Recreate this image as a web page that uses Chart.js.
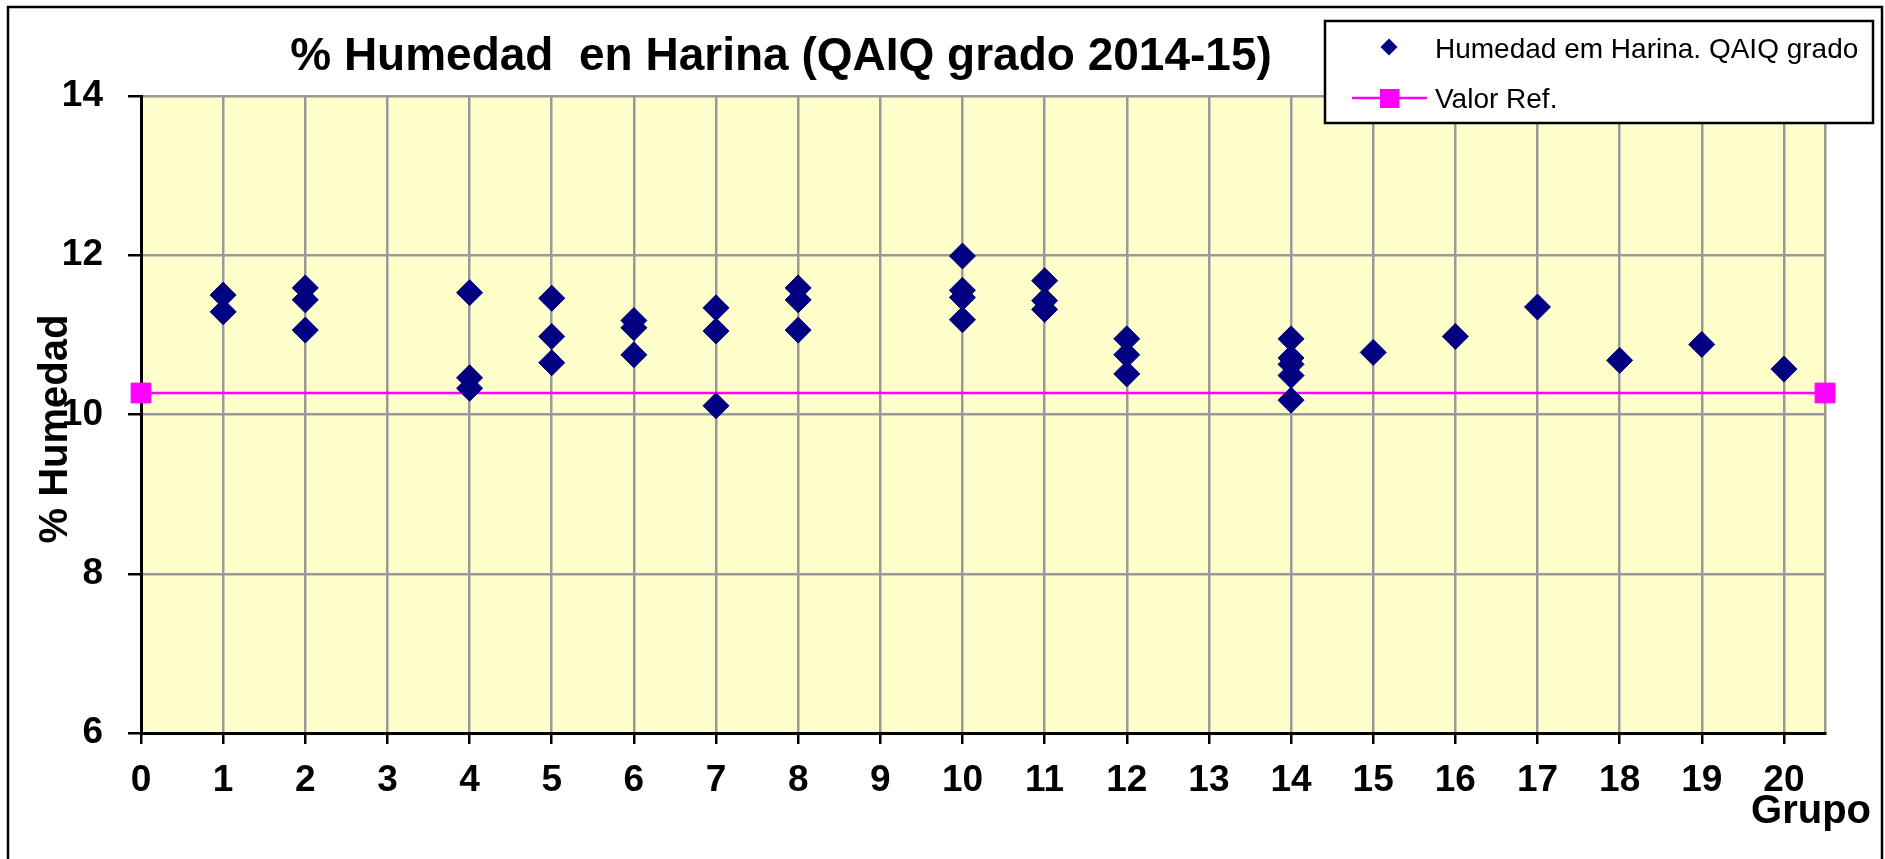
<!DOCTYPE html>
<html>
<head>
<meta charset="utf-8">
<script src="https://cdn.jsdelivr.net/npm/chart.js@4/dist/chart.umd.min.js"></script>
<style>
  html, body { margin: 0; padding: 0; background: #fff; }
  canvas { display: block; }
</style>
</head>
<body>
<canvas id="humedadChart" width="1885" height="859"></canvas>
<script>
// datos
var grupos = [1, 1,
  2, 2, 2,
  4, 4, 4,
  5, 5, 5,
  6, 6, 6,
  7, 7, 7,
  8, 8, 8,
  10, 10, 10, 10,
  11, 11, 11,
  12, 12, 12,
  14, 14, 14, 14, 14,
  15, 16, 17, 18, 19, 20];
var humedad = [11.50, 11.29,
  11.59, 11.44, 11.06,
  11.53, 10.46, 10.33,
  11.46, 10.98, 10.65,
  11.18, 11.09, 10.75,
  11.34, 11.05, 10.11,
  11.59, 11.44, 11.06,
  11.99, 11.56, 11.47, 11.19,
  11.68, 11.43, 11.32,
  10.95, 10.75, 10.51,
  10.95, 10.71, 10.63, 10.49, 10.18,
  10.78, 10.98, 11.35, 10.68, 10.88, 10.57];
var refGrupos = [0, 20.5];
var refValor = [10.27, 10.27];
var xTicks = [0, 1, 2, 3, 4, 5, 6, 7, 8, 9, 10, 11, 12, 13, 14, 15, 16, 17, 18, 19, 20];
var xMax = 20.5;

var titulo = '% Humedad  en Harina (QAIQ grado 2014-15)';
var tituloY = '% Humedad';
var tituloX = 'Grupo';
var serie1 = 'Humedad em Harina. QAIQ grado';
var serie2 = 'Valor Ref.';

var fuente = "'Liberation Sans', Arial, sans-serif";
var azul = '#000080';
var rosa = '#FF00FF';
var gris = '#999999';

function toPoints(xs, ys) {
  return xs.map(function (x, i) { return {x: x, y: ys[i]}; });
}

// fondo, marco, titulos y leyenda
var marco = {
  id: 'marco',
  beforeDraw: function (chart) {
    var ctx = chart.ctx, a = chart.chartArea;
    ctx.save();
    ctx.fillStyle = '#fff';
    ctx.fillRect(0, 0, chart.width, chart.height);
    ctx.fillStyle = '#FFFFCC';
    ctx.fillRect(a.left, a.top, a.right - a.left + 2, a.bottom - a.top + 3);
    ctx.restore();
  },
  afterDraw: function (chart) {
    var ctx = chart.ctx;
    ctx.save();
    ctx.strokeStyle = '#000';
    ctx.lineWidth = 2.5;
    ctx.strokeRect(8, 7, 1874, 900);

    ctx.fillStyle = '#000';
    ctx.textAlign = 'center';
    ctx.textBaseline = 'alphabetic';
    ctx.font = 'bold 46px ' + fuente;
    ctx.fillText(titulo, 781, 70);

    ctx.font = 'bold 40px ' + fuente;
    ctx.textAlign = 'right';
    ctx.fillText(tituloX, 1871, 823);

    ctx.save();
    ctx.translate(67, 429);
    ctx.rotate(-Math.PI / 2);
    ctx.textAlign = 'center';
    ctx.fillText(tituloY, 0, 0);
    ctx.restore();

    // leyenda
    ctx.fillStyle = '#fff';
    ctx.fillRect(1325, 21, 548, 102);
    ctx.lineWidth = 2.5;
    ctx.strokeRect(1325, 21, 548, 102);

    ctx.fillStyle = azul;
    ctx.beginPath();
    ctx.moveTo(1389, 38.5);
    ctx.lineTo(1397.5, 47);
    ctx.lineTo(1389, 55.5);
    ctx.lineTo(1380.5, 47);
    ctx.closePath();
    ctx.fill();

    ctx.strokeStyle = rosa;
    ctx.lineWidth = 2.5;
    ctx.beginPath();
    ctx.moveTo(1352, 98);
    ctx.lineTo(1427, 98);
    ctx.stroke();
    ctx.fillStyle = rosa;
    ctx.fillRect(1380, 89, 19.5, 19);

    ctx.fillStyle = '#000';
    ctx.textAlign = 'left';
    ctx.font = '28px ' + fuente;
    ctx.fillText(chart.data.datasets[0].label, 1435, 57.5);
    ctx.fillText(chart.data.datasets[1].label, 1435, 108);
    ctx.restore();
  }
};

var ctx = document.getElementById('humedadChart');
var myChart = new Chart(ctx, {
  type: 'scatter',
  data: {
    datasets: [{
        label: serie1,
        data: toPoints(grupos, humedad),
        pointStyle: 'rectRot',
        pointRadius: 13,
        pointBorderWidth: 1,
        backgroundColor: azul,
        borderColor: azul,
        clip: false
      },
      {
        label: serie2,
        data: toPoints(refGrupos, refValor),
        showLine: true,
        borderColor: rosa,
        borderWidth: 2.5,
        pointStyle: 'rect',
        pointRadius: 14,
        pointBorderWidth: 1,
        pointBackgroundColor: rosa,
        pointBorderColor: rosa,
        backgroundColor: rosa,
        clip: false
      }
    ]
  },
  options: {
    responsive: false,
    animation: false,
    layout: {
      padding: {top: 96, right: 60, left: 0, bottom: 0}
    },
    scales: {
      x: {
        type: 'linear',
        min: 0,
        max: xMax,
        afterFit: function (scale) { scale.height = 126; },
        afterBuildTicks: function (scale) {
          scale.ticks = xTicks.map(function (v) { return {value: v}; }).concat([{value: xMax}]);
        },
        ticks: {
          autoSkip: false,
          maxRotation: 0,
          padding: 15,
          color: '#000',
          font: {family: fuente, size: 37, weight: 'bold'},
          callback: function (v) { return v === xMax ? '' : v; }
        },
        grid: {
          color: gris,
          lineWidth: 2.5,
          tickLength: 11,
          tickWidth: 2.5,
          tickColor: function (c) { return (c.tick && c.tick.value === xMax) ? 'rgba(0,0,0,0)' : '#000'; }
        },
        border: {color: '#000', width: 3}
      },
      y: {
        min: 6,
        max: 14,
        afterFit: function (scale) { scale.width = 141; },
        ticks: {
          stepSize: 2,
          padding: 25,
          color: '#000',
          font: {family: fuente, size: 37, weight: 'bold'}
        },
        grid: {
          color: gris,
          lineWidth: 2.5,
          tickLength: 13,
          tickWidth: 2.5,
          tickColor: '#000'
        },
        border: {color: '#000', width: 3}
      }
    },
    plugins: {
      legend: {display: false},
      title: {display: false},
      tooltip: {enabled: false}
    }
  },
  plugins: [marco]
});
</script>
</body>
</html>
